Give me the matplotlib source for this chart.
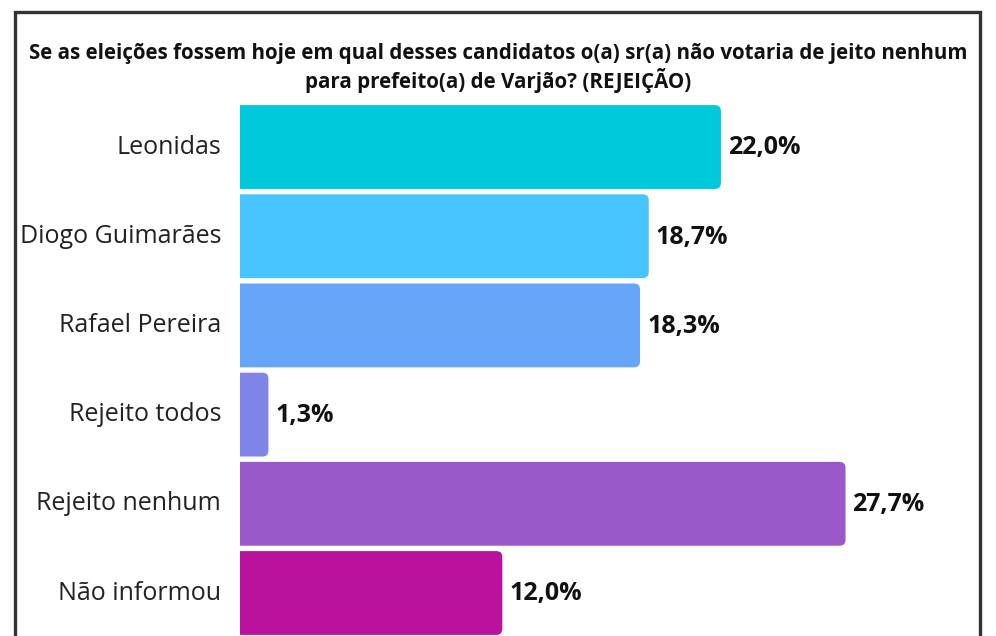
import matplotlib
matplotlib.use("Agg")
import matplotlib.pyplot as plt
from matplotlib.patches import FancyBboxPatch, Rectangle

categories = ["Leonidas", "Diogo Guimarães", "Rafael Pereira", "Rejeito todos", "Rejeito nenhum", "Não informou"]
values = [22.0, 18.7, 18.3, 1.3, 27.7, 12.0]
value_labels = ["22,0%", "18,7%", "18,3%", "1,3%", "27,7%", "12,0%"]
colors = ["#00C9DC", "#48C4FE", "#66A6F8", "#8083E8", "#9B58CB", "#BB129E"]
title = ("Se as eleições fossem hoje em qual desses candidatos o(a) sr(a) não votaria de jeito nenhum\n"
         "para prefeito(a) de Varjão? (REJEIÇÃO)")

plt.rcParams['font.family'] = ['Open Sans', 'DejaVu Sans']

W, H = 996, 636
fig = plt.figure(figsize=(W / 100, H / 100), dpi=100)
fig.patch.set_facecolor("white")

# frame
fig.patches.append(Rectangle((15 / W, -0.05), (980 - 15) / W, (H - 12) / H + 0.05,
                             transform=fig.transFigure, fill=False,
                             edgecolor="#333333", linewidth=2.4))

ax_left, ax_right = 240, 983
ax_top = 100
ax = fig.add_axes([ax_left / W, 0, (ax_right - ax_left) / W, (H - ax_top) / H])
px_per_unit = 21.86
xmax = (ax_right - ax_left) / px_per_unit
ax.set_xlim(0, xmax)
ax.set_ylim(5.482, -0.527)
ax.axis("off")

bar_h = 0.94
rx = 6 / px_per_unit
ry = 6 / 89.2
bars = ax.barh(range(len(categories)), values, height=bar_h, color=colors)
for b, c in zip(bars, colors):
    b.set_visible(False)
    x0 = b.get_x() - 1.0
    y0 = b.get_y()
    w = b.get_width() + 1.0
    h = b.get_height()
    p = FancyBboxPatch((x0, y0), w, h,
                       boxstyle=f"round,pad=0,rounding_size={rx}",
                       mutation_aspect=ry / rx, facecolor=c, edgecolor="none",
                       clip_on=True)
    ax.add_patch(p)

for i, (v, lab) in enumerate(zip(values, value_labels)):
    ax.text(v + 7 / px_per_unit, i + 0.01, lab, ha="left", va="center",
            fontsize=18, fontweight="bold", color="#111111")
    ax.text(-19 / px_per_unit, i, categories[i], ha="right", va="center",
            fontsize=18, color="#222222", clip_on=False)

fig.text(0.5, (H - 68) / H, title, ha="center", va="center", fontsize=14.8,
         fontweight="bold", color="#111111", linespacing=1.22)

fig.savefig("out.png", dpi=100)
